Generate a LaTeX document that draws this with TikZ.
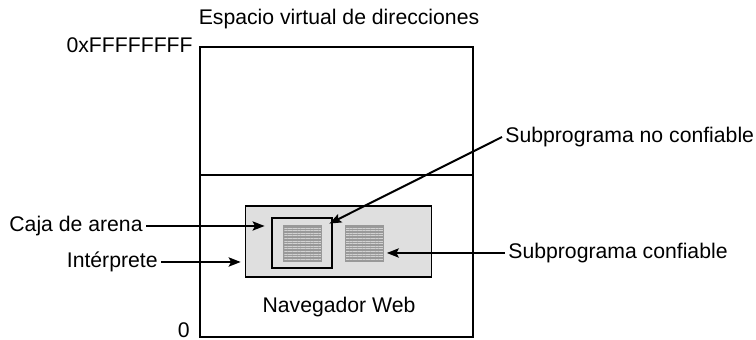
\documentclass[tikz,border=0pt]{standalone}
\usepackage{fontspec}
\setmainfont{Liberation Sans}
\usetikzlibrary{arrows.meta,calc,positioning,patterns.meta}

\begin{document}
\begin{tikzpicture}[x=0.5pt, y=-0.5pt,
  every node/.style={font=\fontsize{10.6}{12.7}\selectfont, inner sep=1.5pt},
  lbl/.style={align=center},
  box/.style={draw, line width=0.8pt, inner sep=0pt},
  browser/.style={box, fill=gray!25, minimum width=93pt, minimum height=35.5pt},
  sandbox/.style={draw, line width=1.4pt, inner sep=0pt, minimum width=30pt, minimum height=25pt},
  applet/.style={draw=gray!80, line width=0.3pt, inner sep=0pt, minimum width=19pt, minimum height=18pt,
    preaction={fill=gray!80}, pattern={Lines[angle=0,distance=1.3pt,line width=0.5pt]}, pattern color=gray!35},
  arr/.style={-{Stealth[length=6pt,width=4.6pt,inset=1.2pt]}, line width=1pt}]

\useasboundingbox (0,0) rectangle (756,340);

% espacio de direcciones
\draw[line width=0.75pt] (200,47) rectangle (473,337);
\draw[line width=0.75pt] (200,175) -- (473,175);
\node[lbl] (title) at (339,19) {Espacio virtual de direcciones};
\node[lbl, anchor=east] (top) at (196,45) {0xFFFFFFFF};
\node[lbl, anchor=east] (zero) at (193,330) {0};

% navegador
\node[browser] (web) at (338.5,241.5) {};
\node[sandbox] (sand) at (302,243) {};
\node[applet] (untrusted) at (302,243) {};
\node[applet] (trusted) at (364.5,243) {};
\node[lbl] (webname) at (339,307) {Navegador Web};

% etiquetas
\node[lbl, anchor=east] (caja) at (146,226) {Caja de arena};
\node[lbl, anchor=east] (interp) at (161,262) {Intérprete};
\node[lbl, anchor=west] (noconf) at (502,137) {Subprograma no confiable};
\node[lbl, anchor=west] (conf) at (505,253) {Subprograma confiable};
\coordinate (tip) at ($(sand.north east)+(-4,7)$);

\draw[arr, shorten >=3pt] (caja.east) -- (caja.east -| sand.west);
\draw[arr, shorten >=2pt] (interp.east) -- (interp.east -| web.west);
\draw[arr] (noconf.west) -- (tip);
\draw[arr, shorten >=1.5pt] (conf.west) -- (conf.west -| trusted.east);

\end{tikzpicture}
\end{document}
